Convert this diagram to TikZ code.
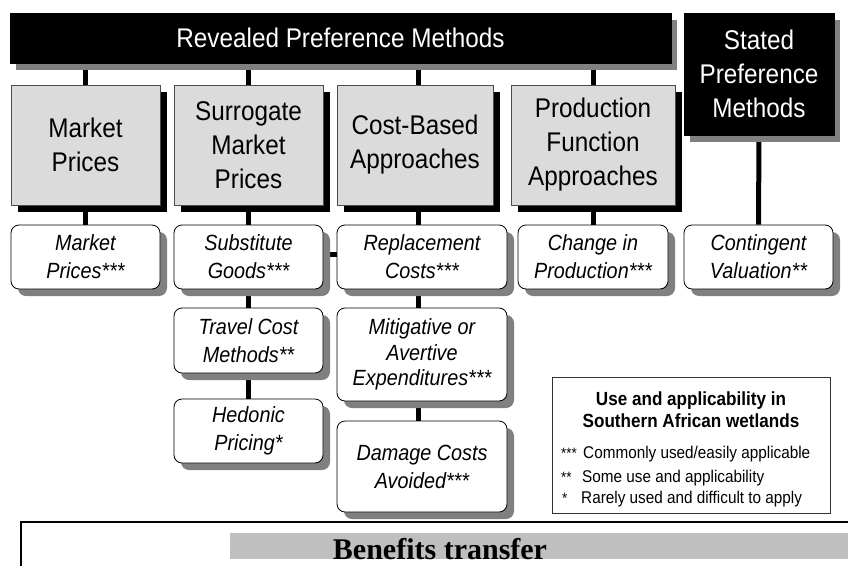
\documentclass[tikz,border=0pt]{standalone}
\usepackage{fontspec}
\setmainfont{Liberation Sans}[FakeStretch=0.9]
\newfontfamily\benfont{Liberation Serif}
\usetikzlibrary{shadows}
\pgfdeclarelayer{background}
\pgfsetlayers{background,main}
\newcommand{\bigfont}{\fontsize{27}{34}\selectfont}
\newcommand{\itfont}{\fontsize{22}{28}\selectfont\itshape}
\tikzset{
  headbox/.style={draw=black, fill=black, text=white, font=\bigfont, align=center, inner sep=0pt,
    drop shadow={shadow xshift=6pt, shadow yshift=-7pt, fill=black!50, opacity=1}},
  catbox/.style={draw=black!70, line width=0.8pt, fill=black!14, font=\bigfont, align=center, inner sep=0pt,
    drop shadow={shadow xshift=7pt, shadow yshift=-7pt, fill=black, opacity=1}},
  methbox/.style={draw=black, line width=0.8pt, rounded corners=8pt, fill=white, font=\itfont, align=center, inner sep=0pt,
    drop shadow={shadow xshift=7pt, shadow yshift=-7pt, fill=black!50, opacity=1}},
  link/.style={line width=5pt, black},
  legtext/.style={anchor=base west, inner sep=0pt, font=\fontsize{17}{20}\selectfont},
  legstar/.style={anchor=base west, inner sep=0pt, font=\fontsize{15}{18}\selectfont}
}
\begin{document}
\begin{tikzpicture}[x=1pt,y=-1pt]
\useasboundingbox (0,0) rectangle (848,565);
% headers
\node[headbox, minimum width=661pt, minimum height=50pt] (rev) at (340.5,38) {Revealed Preference Methods};
\node[headbox, minimum width=150pt, minimum height=122pt] (sp) at (759,74) {Stated\\Preference\\Methods};
% categories
\node[catbox, minimum width=149pt, minimum height=120pt] (mpc) at (85.5,145) {Market\\Prices};
\node[catbox, minimum width=149pt, minimum height=120pt] (smp) at (248.5,145) {Surrogate\\Market\\Prices};
\node[catbox, minimum width=156pt, minimum height=120pt] (cba) at (415,145) {Cost-Based\\Approaches};
\node[catbox, minimum width=164pt, minimum height=120pt] (pfa) at (593,145) {Production\\Function\\Approaches};
% methods
\node[methbox, minimum width=149pt, minimum height=64pt] (mpm) at (85.5,257) {Market\\Prices***};
\node[methbox, minimum width=149pt, minimum height=64pt] (sg) at (248.5,257) {Substitute\\Goods***};
\node[methbox, minimum width=170pt, minimum height=64pt] (rc) at (422,257) {Replacement\\Costs***};
\node[methbox, minimum width=150pt, minimum height=64pt] (cp) at (593,257) {Change in\\Production***};
\node[methbox, minimum width=149pt, minimum height=64pt] (cv) at (758.5,257) {Contingent\\Valuation**};
\node[methbox, minimum width=149pt, minimum height=65pt] (tc) at (248.5,340.5) {Travel Cost\\Methods**};
\node[methbox, minimum width=149pt, minimum height=64pt] (hp) at (248.5,431) {Hedonic\\Pricing*};
\node[methbox, minimum width=170pt, minimum height=93pt, font=\fontsize{22}{25.5}\selectfont\itshape] (mae) at (422,354.5) {Mitigative or\\Avertive\\Expenditures***};
\node[methbox, minimum width=170pt, minimum height=91pt] (dca) at (422,466.5) {Damage Costs\\Avoided***};
% connectors
\begin{pgfonlayer}{background}
\draw[link] (mpc.north) -- (mpc.north |- rev.south);
\draw[link] (smp.north) -- (smp.north |- rev.south);
\draw[link] ([xshift=3pt]cba.north) -- ([xshift=3pt]cba.north |- rev.south);
\draw[link] (pfa.north) -- (pfa.north |- rev.south);
\draw[link] (mpc.south) -- (mpm.north);
\draw[link] (smp.south) -- (sg.north);
\draw[link] ([xshift=3pt]cba.south) -- ([xshift=3pt]cba.south |- rc.north);
\draw[link] (pfa.south) -- (cp.north);
\draw[link] (sp.south) -- (cv.north);
\draw[link] (sg.south) -- (tc.north);
\draw[link] (tc.south) -- (hp.north);
\draw[link] ([xshift=-4pt]rc.south) -- ([xshift=-4pt]mae.north);
\draw[link] ([xshift=-4pt]mae.south) -- ([xshift=-4pt]dca.north);
\draw[link] ([yshift=3pt]sg.east) -- ([yshift=3pt]rc.west);
\end{pgfonlayer}
% legend
\node[draw=black!80, line width=0.8pt, minimum width=278pt, minimum height=136pt, inner sep=0pt] (leg) at (691,445) {};
\node[anchor=base, inner sep=0pt, font=\fontsize{19}{22}\selectfont\bfseries] (legh1) at (691,405) {Use and applicability in};
\node[anchor=base, inner sep=0pt, font=\fontsize{19}{22}\selectfont\bfseries] (legh2) at (691,427) {Southern African wetlands};
\node[legstar] (s3) at (561,458) {***};
\node[legtext] (l3) at (583,458) {Commonly used/easily applicable};
\node[legstar] (s2) at (561,482) {**};
\node[legtext] (l2) at (582,482) {Some use and applicability};
\node[legstar] (s1) at (562,503) {*};
\node[legtext] (l1) at (581,503) {Rarely used and difficult to apply};
% benefits transfer
\coordinate (bl) at (21,570);
\coordinate (bt) at (21,522);
\coordinate (br) at (852,522);
\draw[line width=1.6pt] (bl) -- (bt) -- (br);
\fill[black!25] (230,533) rectangle (850,559);
\node[anchor=base, inner sep=0pt, font=\benfont\fontsize{30}{34}\selectfont\bfseries] (bt2) at (440,559) {Benefits transfer};
\end{tikzpicture}
\end{document}
